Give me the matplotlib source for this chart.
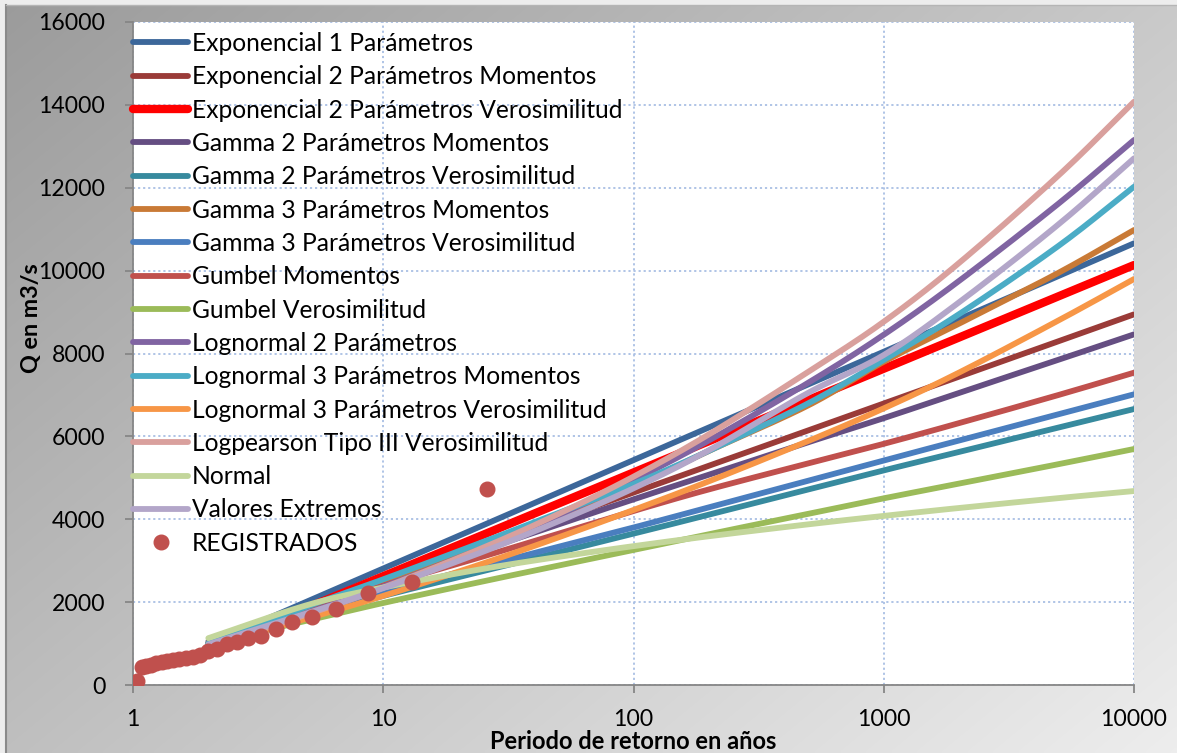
import numpy as np
import matplotlib
matplotlib.use("Agg")
import matplotlib.pyplot as plt

plt.rcParams['font.family'] = ['Lato', 'DejaVu Sans']

# Return periods (years) at which each fitted distribution is evaluated
T_CURVE = [2, 5, 10, 25, 50, 100, 200, 500, 1000, 2000, 5000, 10000]

exp1 = [983, 2024, 2811, 3852, 4640, 5427, 6215, 7256, 8043, 8831, 9872, 10659]
exp2_mom = [992, 1848, 2495, 3351, 4000, 4645, 5290, 6146, 6795, 7440, 8296, 8945]
exp2_ver = [876, 1873, 2626, 3622, 4376, 5129, 5882, 6879, 7632, 8386, 9382, 10135]
gam2_mom = [1050, 1855, 2460, 3260, 3875, 4480, 5075, 5860, 6440, 7050, 7850, 8462]
gam2_ver = [1000, 1655, 2150, 2747, 3199, 3650, 4111, 4720, 5180, 5625, 6215, 6660]
gam3_mom = [1000, 1870, 2480, 3330, 4050, 4800, 5650, 6750, 7800, 8720, 9950, 10980]
gam3_ver = [1000, 1712, 2250, 2867, 3333, 3800, 4288, 4932, 5420, 5900, 6535, 7015]
gum_mom = [950, 1800, 2400, 3100, 3650, 4200, 4720, 5350, 5820, 6320, 7000, 7537]
gum_ver = [1000, 1560, 1980, 2500, 2880, 3258, 3640, 4130, 4505, 4860, 5330, 5695]
ln2 = [965, 1745, 2374, 3305, 4087, 4947, 5900, 7297, 8453, 9752, 11620, 13152]
ln3_mom = [1000, 1900, 2550, 3450, 4150, 4850, 5650, 6800, 7843, 8950, 10600, 12025]
ln3_ver = [930, 1610, 2150, 2930, 3560, 4223, 4915, 5890, 6676, 7540, 8800, 9797]
lp3_ver = [925, 1709, 2350, 3311, 4125, 5027, 6047, 7560, 8767, 10185, 12300, 14076]
normal = [1130, 1934, 2354, 2802, 3091, 3351, 3590, 3878, 4081, 4272, 4511, 4681]
val_ext = [980, 1736, 2337, 3214, 3948, 4746, 5664, 7054, 7963, 9236, 11120, 12710]

# Recorded annual maximum discharges with their plotting-position return periods
T_REG = [26, 13, 8.667, 6.5, 5.2, 4.333, 3.714, 3.25, 2.889, 2.6, 2.364, 2.167, 2.0,
         1.857, 1.733, 1.625, 1.529, 1.444, 1.368, 1.3, 1.238, 1.182, 1.13, 1.083, 1.04]
Q_REG = [4730, 2490, 2210, 1830, 1645, 1513, 1360, 1190, 1127, 1045, 1000, 875, 830,
         724, 680, 640, 620, 605, 590, 565, 530, 490, 460, 425, 90]

SERIES = [
    ("Exponencial 1 Parámetros", exp1, "#3C679A", 4.2),
    ("Exponencial 2 Parámetros Momentos", exp2_mom, "#9A3B38", 4.2),
    ("Exponencial 2 Parámetros Verosimilitud", exp2_ver, "#FF0000", 6.0),
    ("Gamma 2 Parámetros Momentos", gam2_mom, "#654E82", 4.2),
    ("Gamma 2 Parámetros Verosimilitud", gam2_ver, "#378A9E", 4.2),
    ("Gamma 3 Parámetros Momentos", gam3_mom, "#C97A36", 4.2),
    ("Gamma 3 Parámetros Verosimilitud", gam3_ver, "#4A7EBF", 4.2),
    ("Gumbel Momentos", gum_mom, "#C0504D", 4.2),
    ("Gumbel Verosimilitud", gum_ver, "#9BBB59", 4.2),
    ("Lognormal 2 Parámetros", ln2, "#8064A2", 4.2),
    ("Lognormal 3 Parámetros Momentos", ln3_mom, "#4BACC6", 4.2),
    ("Lognormal 3 Parámetros Verosimilitud", ln3_ver, "#F79646", 4.2),
    ("Logpearson Tipo III Verosimilitud", lp3_ver, "#D9A09D", 4.2),
    ("Normal", normal, "#C3D69B", 4.2),
    ("Valores Extremos", val_ext, "#B3A6C9", 4.2),
]


def smooth_curve(t, q, n=24):
    """Catmull-Rom smoothing through the points, done in log-period space."""
    x = np.log10(np.asarray(t, float))
    y = np.asarray(q, float) / 4000.0   # roughly the on-screen aspect
    px = np.concatenate([[2 * x[0] - x[1]], x, [2 * x[-1] - x[-2]]])
    py = np.concatenate([[2 * y[0] - y[1]], y, [2 * y[-1] - y[-2]]])
    xs, ys = [], []
    s = np.linspace(0, 1, n, endpoint=False)
    for i in range(1, len(px) - 2):
        p0, p1, p2, p3 = (np.array([px[k], py[k]]) for k in (i - 1, i, i + 1, i + 2))
        c1 = p1 + (p2 - p0) / 6.0
        c2 = p2 - (p3 - p1) / 6.0
        pts = (((1 - s) ** 3)[:, None] * p1 + (3 * (1 - s) ** 2 * s)[:, None] * c1
               + (3 * (1 - s) * s ** 2)[:, None] * c2 + (s ** 3)[:, None] * p2)
        xs.append(pts[:, 0])
        ys.append(pts[:, 1])
    xs.append([x[-1]])
    ys.append([y[-1]])
    return 10 ** np.concatenate(xs), np.concatenate(ys) * 4000.0


W, H = 1177, 753
fig = plt.figure(figsize=(W / 100, H / 100), dpi=100)
fig.patch.set_facecolor("#EDEDED")

# Diagonal grey gradient behind the chart
bg = fig.add_axes([0, 0, 1, 1], zorder=-10)
xx, yy = np.meshgrid(np.linspace(0, 1, 300), np.linspace(0, 1, 200))
shade = 0.61 + 0.18 * xx + 0.14 * yy
bg.imshow(np.dstack([shade, shade, shade]), extent=(6 / W, 1, 0, 1 - 5 / H),
          aspect="auto", origin="upper", interpolation="bilinear")
bg.plot([6 / W, 6 / W], [0, 1 - 5 / H], color="#8A8A8A", lw=1.5)
bg.plot([6 / W, 1], [1 - 5 / H, 1 - 5 / H], color="#B5B5B5", lw=1.0)
bg.set_xlim(0, 1)
bg.set_ylim(0, 1)
bg.axis("off")

ax = fig.add_axes([133 / W, 1 - 685 / H, (1134 - 133) / W, (685 - 22) / H])
ax.set_facecolor("white")

for name, vals, col, lw in SERIES:
    sx, sy = smooth_curve(T_CURVE, vals)
    ax.plot(sx, sy, color=col, lw=lw, solid_capstyle="round",
            label=name, zorder=3)

ax.plot(T_REG, Q_REG, linestyle="none", marker="o", markersize=10.5,
        color="#C0504D", label="REGISTRADOS", zorder=4)

ax.set_xscale("log")
ax.set_xlim(1, 10000)
ax.set_ylim(0, 16000)
ax.set_xticks([1, 10, 100, 1000, 10000])
ax.set_xticklabels(["1", "10", "100", "1000", "10000"])
ax.xaxis.set_minor_locator(matplotlib.ticker.NullLocator())
ax.set_yticks(np.arange(0, 16001, 2000))

ax.grid(True, which="major", color="#A9BFE4", linestyle=(0, (1.2, 1.6)), lw=1.3)
ax.set_axisbelow(True)
for s in ("top", "right"):
    ax.spines[s].set_visible(False)
for s in ("left", "bottom"):
    ax.spines[s].set_color("#868686")
    ax.spines[s].set_linewidth(1.3)
ax.tick_params(axis="both", direction="out", length=6, width=1.3,
               color="#868686", labelsize=16.6, labelcolor="black")
ax.tick_params(axis="x", pad=11)
ax.tick_params(axis="y", pad=14)

ax.set_xlabel("Periodo de retorno en años", fontsize=17, fontweight="bold",
              labelpad=0)
ax.set_ylabel("Q en m3/s", fontsize=16.8, fontweight="bold", labelpad=10)
ax.yaxis.set_label_coords(-0.091, 0.553)

leg = ax.legend(loc="upper left", bbox_to_anchor=(0, 0.985), frameon=False,
                fontsize=17.7, handlelength=2.24, handletextpad=0.16,
                labelspacing=0.42, borderpad=0, borderaxespad=0,
                numpoints=1)
leg.set_zorder(5)

fig.savefig("out.png", dpi=100)
